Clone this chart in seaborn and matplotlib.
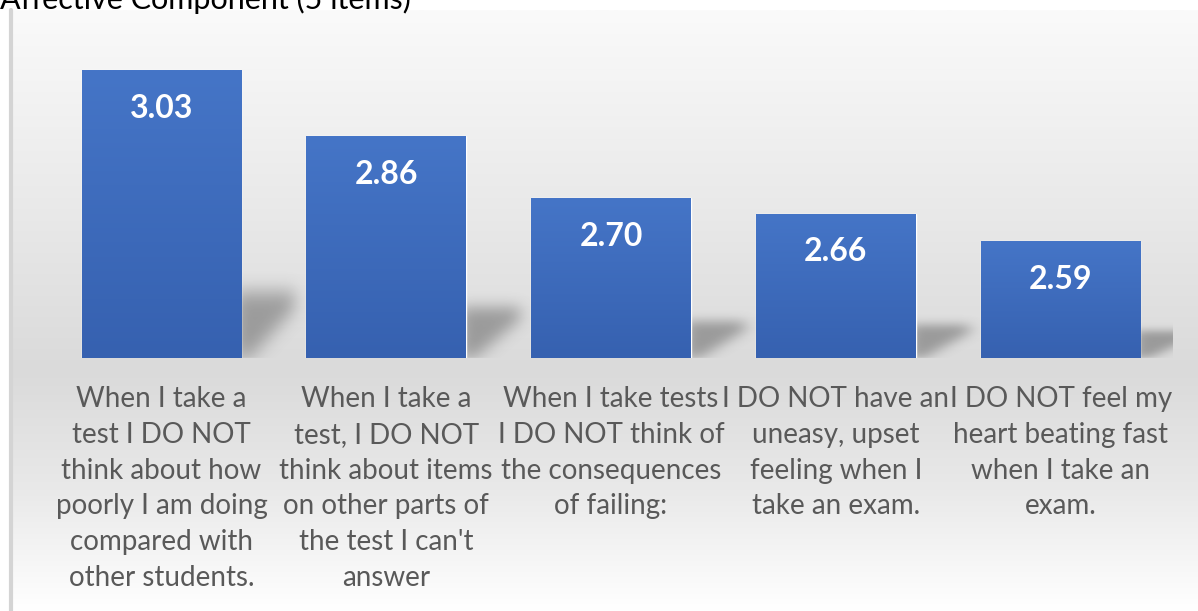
import numpy as np
import matplotlib
matplotlib.use("Agg")
import matplotlib.pyplot as plt
import seaborn as sns
from matplotlib.colors import LinearSegmentedColormap
from matplotlib.lines import Line2D

# data
items = [
    "When I take a\ntest I DO NOT\nthink about how\npoorly I am doing\ncompared with\nother students.",
    "When I take a\ntest, I DO NOT\nthink about items\non other parts of\nthe test I can't\nanswer",
    "When I take tests\nI DO NOT think of\nthe consequences\nof failing:",
    "I DO NOT have an\nuneasy, upset\nfeeling when I\ntake an exam.",
    "I DO NOT feel my\nheart beating fast\nwhen I take an\nexam.",
]
means = [3.03, 2.86, 2.70, 2.66, 2.59]
title = "Affective Component (5 items)"

sns.set_style("white")
plt.rcParams["font.family"] = ["Lato", "DejaVu Sans"]

W, H = 1198, 611
fig = plt.figure(figsize=(W / 100, H / 100), dpi=100)
fig.patch.set_facecolor("white")

# chart area background gradient
bg = fig.add_axes([12 / W, 0, 1 - 12 / W, 601 / H], zorder=-5)
bg_cmap = LinearSegmentedColormap.from_list(
    "bg", [(0, "#fafafa"), (0.35, "#e8e8e8"), (0.6, "#dadada"), (0.8, "#e9e9e9"), (1, "#ffffff")])
bg.imshow(np.linspace(0, 1, 256).reshape(-1, 1), aspect="auto", cmap=bg_cmap,
          extent=[0, 1, 0, 1], origin="upper")
bg.axis("off")
fig.add_artist(Line2D([11 / W, 11 / W], [0, 601 / H], color="#d4d4d4", lw=3,
                      transform=fig.transFigure))

fig.text(0.0, 1 - 9 / H, title, fontsize=22, color="black", va="baseline", ha="left")

ymin, ymax = 2.289, 3.159
ax = fig.add_axes([49 / W, 253 / H, 1124 / W, 338 / H])
ax.set_facecolor("none")
sns.barplot(x=items, y=means, width=0.71, color="#4472c4", saturation=1, ax=ax, zorder=3)


def box_blur(a, k, axis):
    kern = np.ones(k) / k
    return np.apply_along_axis(lambda r: np.convolve(r, kern, mode="same"), axis, a)


# soft shadow texture: blurred skewed mask (u across, t up)
n = 240
u0, u1, t0, t1 = -0.3, 1.4, -0.3, 1.5
u, t = np.meshgrid(np.linspace(u0, u1, n), np.linspace(t1, t0, n))
mask = ((u >= -0.1) & (u <= 0.8) & (t >= 0) & (t <= 0.85)
        & (t > (u - 0.12) * 0.95)).astype(float)
for _ in range(3):
    mask = box_blur(box_blur(mask, 31, 0), 31, 1)
mask[t < 0] = 0
shadow_rgba = np.zeros((n, n, 4))
shadow_rgba[..., :3] = 0.35
shadow_rgba[..., 3] = 0.5 * mask

bar_cmap = LinearSegmentedColormap.from_list("bar", ["#4575c7", "#3661b0"])
for p, v in zip(ax.patches, means):
    x0, w = p.get_x(), p.get_width()
    x1 = x0 + w
    # gradient fill
    im = ax.imshow(np.linspace(0, 1, 100).reshape(-1, 1), aspect="auto", cmap=bar_cmap,
                   extent=[x0, x1, ymin, v], origin="upper", zorder=4)
    im.set_clip_path(p)
    dx, sh = 0.3, 0.27 * (v - ymin)
    ax.imshow(shadow_rgba, aspect="auto",
              extent=[x1 + u0 * dx, x1 + u1 * dx, ymin + t0 * sh, ymin + t1 * sh],
              origin="upper", zorder=2, interpolation="bilinear")
    ax.annotate(f"{v:.2f}", (x0 + w / 2, v), xytext=(0, -38), textcoords="offset pixels",
                ha="center", va="center", color="white", fontsize=23, fontweight="bold",
                zorder=6)

ax.set_xlim(-0.5, len(items) - 0.5)
ax.set_ylim(ymin, ymax)
ax.set_yticks([])
ax.tick_params(axis="x", length=0, pad=20, labelsize=20, labelcolor="#595959")
for lbl in ax.get_xticklabels():
    lbl.set_linespacing(1.47)
    lbl.set_ha("center")
for s in ax.spines.values():
    s.set_visible(False)
ax.set_xlabel("")
ax.set_ylabel("")

fig.savefig("out.png", dpi=100)
